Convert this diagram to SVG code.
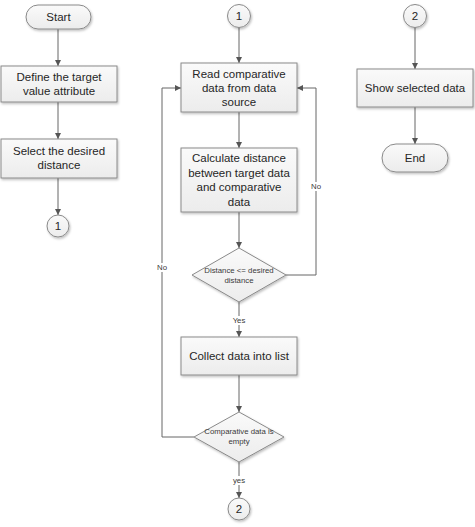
<svg xmlns="http://www.w3.org/2000/svg" width="475" height="527" viewBox="0 0 475 527">
<defs>
<linearGradient id="g" x1="0" y1="0" x2="0" y2="1">
<stop offset="0" stop-color="#fafafa"/>
<stop offset="1" stop-color="#ececec"/>
</linearGradient>
<filter id="sh" x="-10%" y="-10%" width="130%" height="140%">
<feDropShadow dx="1" dy="1.5" stdDeviation="1" flood-color="#000" flood-opacity="0.25"/>
</filter>
<marker id="ah" viewBox="0 0 8 8" refX="8" refY="4" markerWidth="6" markerHeight="6" orient="auto" markerUnits="userSpaceOnUse">
<path d="M0,0 L8,4 L0,8 Z" fill="#555"/>
</marker>
</defs>
<style>
.n{fill:url(#g);stroke:#8a8a8a;stroke-width:1;filter:url(#sh)}
.t{font-family:"Liberation Sans",Arial,sans-serif;font-size:11.5px;fill:#262626;text-anchor:middle}
.s{font-family:"Liberation Sans",Arial,sans-serif;font-size:7.8px;fill:#3a3a3a;text-anchor:middle}
.c{fill:none;stroke:#666;stroke-width:1;marker-end:url(#ah)}
.lb{fill:#fff}
</style>
<rect width="475" height="527" fill="#fff"/>
<g id="connectors">
<path class="c" d="M58,29 V66"/>
<path class="c" d="M58,102 V139"/>
<path class="c" d="M58,178 V215"/>
<path class="c" d="M239,27 V63"/>
<path class="c" d="M239,112 V148"/>
<path class="c" d="M239,212 V248"/>
<path class="c" d="M239,302 V337"/>
<path class="c" d="M239,375 V412"/>
<path class="c" d="M239,462 V498"/>
<path class="c" d="M286,275 H316 V88 H297"/>
<path class="c" d="M194,437 H162 V88 H181"/>
<path class="c" d="M415,27 V69"/>
<path class="c" d="M415,107 V144"/>
<rect class="lb" x="310" y="182" width="12" height="9"/>
<text class="s" x="316" y="189">No</text>
<rect class="lb" x="156" y="263" width="12" height="9"/>
<text class="s" x="162" y="270">No</text>
<rect class="lb" x="232" y="316" width="14" height="9"/>
<text class="s" x="239" y="323">Yes</text>
<rect class="lb" x="233" y="476" width="12" height="9"/>
<text class="s" x="239" y="483">yes</text>
</g>
<g id="start"><rect class="n" x="26" y="5" width="65" height="24" rx="12"/><text class="t" x="58.5" y="21">Start</text></g>
<g id="define"><rect class="n" x="1" y="66" width="116" height="36"/><text class="t" x="59" y="81">Define the target</text><text class="t" x="59" y="95">value attribute</text></g>
<g id="select"><rect class="n" x="1" y="139" width="116" height="39"/><text class="t" x="59" y="155">Select the desired</text><text class="t" x="59" y="169">distance</text></g>
<g id="conn1a"><circle class="n" cx="58" cy="226" r="11"/><text class="t" x="58" y="230">1</text></g>
<g id="conn1b"><circle class="n" cx="239" cy="16" r="11.5"/><text class="t" x="239" y="20">1</text></g>
<g id="read"><rect class="n" x="181" y="63" width="116" height="49"/><text class="t" x="239" y="78">Read comparative</text><text class="t" x="239" y="92">data from data</text><text class="t" x="239" y="106">source</text></g>
<g id="calc"><rect class="n" x="181" y="148" width="116" height="64"/><text class="t" x="239" y="162">Calculate distance</text><text class="t" x="239" y="177">between target data</text><text class="t" x="239" y="191">and comparative</text><text class="t" x="239" y="206">data</text></g>
<g id="dec1"><polygon class="n" points="239,248 286,275 239,302 192,275"/><text class="s" x="239" y="273">Distance &lt;= desired</text><text class="s" x="239" y="283">distance</text></g>
<g id="collect"><rect class="n" x="181" y="337" width="116" height="38"/><text class="t" x="239" y="360">Collect data into list</text></g>
<g id="dec2"><polygon class="n" points="239,412 284,437 239,462 194,437"/><text class="s" x="239" y="434">Comparative data is</text><text class="s" x="239" y="444">empty</text></g>
<g id="conn2a"><circle class="n" cx="239" cy="509" r="11"/><text class="t" x="239" y="513">2</text></g>
<g id="conn2b"><circle class="n" cx="415" cy="16" r="11.5"/><text class="t" x="415" y="20">2</text></g>
<g id="show"><rect class="n" x="357" y="69" width="116" height="38"/><text class="t" x="415" y="92">Show selected data</text></g>
<g id="end"><rect class="n" x="382" y="144" width="66" height="28" rx="14"/><text class="t" x="415" y="162">End</text></g>
</svg>
